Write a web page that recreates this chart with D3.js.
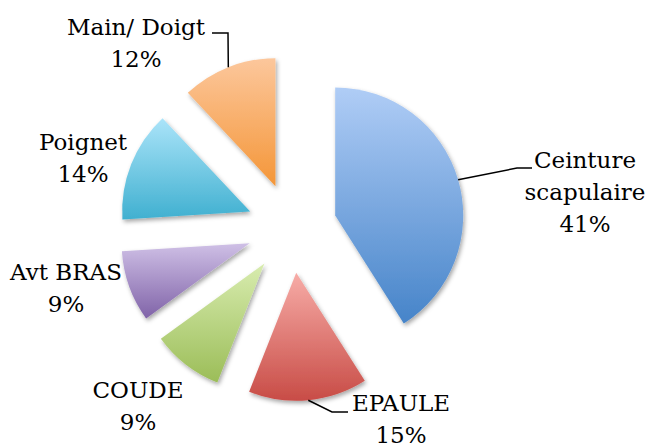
<!DOCTYPE html>
<html>
<head>
<meta charset="utf-8">
<script src="https://cdn.jsdelivr.net/npm/d3@7"></script>
<style>
  html, body { margin: 0; padding: 0; background: #fff; }
  #chart { width: 649px; height: 448px; }
  text.lbl { font-family: 'DejaVu Serif', serif; }
</style>
</head>
<body>
<div id="chart"></div>
<script>
// categories and shares (%), clockwise from 12 o'clock
var categories = ['Ceinture scapulaire', 'EPAULE', 'COUDE', 'Avt BRAS', 'Poignet', 'Main/ Doigt'];
var shares = [41, 15, 9, 9, 14, 12];
var labelLines = [['Ceinture', 'scapulaire'], ['EPAULE'], ['COUDE'], ['Avt BRAS'], ['Poignet'], ['Main/ Doigt']];

// gradient colours per slice (top, bottom)
var topColors = ['#b0cdf6', '#f7aca7', '#d8ecaf', '#cfc0e6', '#abe4f9', '#fcc79c'];
var bottomColors = ['#4684c9', '#c84c46', '#9bbd58', '#8063a8', '#40b0d0', '#f49638'];

// label layout: anchor centre x, first baseline y, and leader line points (null = no line)
var labelPos = [
  { x: 585, y: 168, leader: [[517, 168], [532, 168]] },
  { x: 401, y: 411, leader: [[332, 412], [348, 412]] },
  { x: 138, y: 398, leader: null },
  { x: 66, y: 280, leader: null },
  { x: 83, y: 150, leader: null },
  { x: 136, y: 35, leader: [[228, 33], [212, 33]] }
];

var width = 649, height = 448;
var cx = 292, cy = 228, radius = 128, explode = 45;

var svg = d3.select('#chart').append('svg')
  .attr('width', width)
  .attr('height', height);

var defs = svg.append('defs');
var shadow = defs.append('filter').attr('id', 'shadow')
  .attr('x', '-20%').attr('y', '-20%').attr('width', '140%').attr('height', '140%');
shadow.append('feDropShadow')
  .attr('dx', 1.5).attr('dy', 2.5).attr('stdDeviation', 2)
  .attr('flood-color', '#000').attr('flood-opacity', 0.35);

categories.forEach(function (c, i) {
  var g = defs.append('linearGradient').attr('id', 'grad' + i)
    .attr('x1', 0).attr('y1', 0).attr('x2', 0).attr('y2', 1);
  g.append('stop').attr('offset', '0%').attr('stop-color', topColors[i]);
  g.append('stop').attr('offset', '100%').attr('stop-color', bottomColors[i]);
});

var data = categories.map(function (c, i) { return { name: c, value: shares[i], i: i }; });
var pie = d3.pie().value(function (d) { return d.value; }).sort(null);
var arcs = pie(data);
var arc = d3.arc().innerRadius(0).outerRadius(radius);

function offset(a, dist) {
  var m = (a.startAngle + a.endAngle) / 2;
  return [Math.sin(m) * dist, -Math.cos(m) * dist];
}

var root = svg.append('g').attr('transform', 'translate(' + cx + ',' + cy + ')');

root.selectAll('path.slice')
  .data(arcs)
  .join('path')
  .attr('class', 'slice')
  .attr('transform', function (d) { var o = offset(d, explode); return 'translate(' + o[0] + ',' + o[1] + ')'; })
  .attr('d', arc)
  .attr('fill', function (d) { return 'url(#grad' + d.data.i + ')'; })
  .attr('filter', 'url(#shadow)');

// leader lines start at the middle of the outer arc
svg.selectAll('path.leader')
  .data(arcs.filter(function (d) { return labelPos[d.data.i].leader; }))
  .join('path')
  .attr('class', 'leader')
  .attr('fill', 'none')
  .attr('stroke', '#000')
  .attr('stroke-width', 1.5)
  .attr('d', function (d) {
    var o = offset(d, explode), e = offset(d, radius);
    var pts = [[cx + o[0] + e[0], cy + o[1] + e[1]]].concat(labelPos[d.data.i].leader);
    return d3.line()(pts);
  });

var labels = svg.selectAll('text.lbl')
  .data(data)
  .join('text')
  .attr('class', 'lbl')
  .attr('text-anchor', 'middle')
  .attr('font-size', 23)
  .attr('fill', '#000');

labels.each(function (d) {
  var t = d3.select(this);
  var p = labelPos[d.i];
  var lines = labelLines[d.i].concat([d.value + '%']);
  lines.forEach(function (s, k) {
    t.append('tspan').attr('x', p.x).attr('y', p.y + k * 32).text(s);
  });
});
</script>
</body>
</html>
